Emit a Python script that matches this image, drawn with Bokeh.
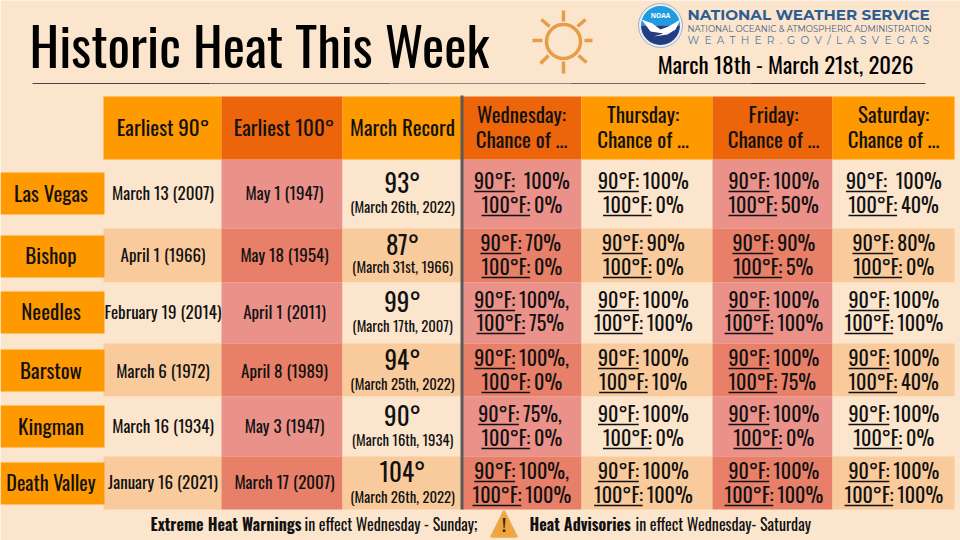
from bokeh.plotting import figure
from bokeh.models import Range1d
from bokeh.core.properties import value
from bokeh.embed import file_html
from bokeh.resources import INLINE

# ---------- data ----------
title = "Historic Heat This Week"
dates = "March 18th - March 21st, 2026"
stations = ["Las Vegas", "Bishop", "Needles", "Barstow", "Kingman", "Death Valley"]
headers = ["Earliest 90°", "Earliest 100°", "March Record"]
day_names = ["Wednesday:", "Thursday:", "Friday:", "Saturday:"]
day_sub = "Chance of ..."
earliest_90 = ["March 13 (2007)", "April 1 (1966)", "February 19 (2014)", "March 6 (1972)", "March 16 (1934)", "January 16 (2021)"]
earliest_100 = ["May 1 (1947)", "May 18 (1954)", "April 1 (2011)", "April 8 (1989)", "May 3 (1947)", "March 17 (2007)"]
record_temp = ["93°", "87°", "99°", "94°", "90°", "104°"]
record_date = ["(March 26th, 2022)", "(March 31st, 1966)", "(March 17th, 2007)", "(March 25th, 2022)", "(March 16th, 1934)", "(March 26th, 2022)"]
chance_90 = [
    ["100%", "100%", "100%", "100%"],
    ["70%", "90%", "90%", "80%"],
    ["100%,", "100%", "100%", "100%"],
    ["100%,", "100%", "100%", "100%"],
    ["75%,", "100%", "100%", "100%"],
    ["100%,", "100%", "100%", "100%"],
]
chance_100 = [
    ["0%", "0%", "50%", "40%"],
    ["0%", "0%", "5%", "0%"],
    ["75%", "100%", "100%", "100%"],
    ["0%", "10%", "75%", "40%"],
    ["0%", "0%", "0%", "0%"],
    ["100%", "100%", "100%", "100%"],
]

# ---------- layout (reference pixels) ----------
FONT = "Oswald"
LOGO = "Montserrat"
BG, ORANGE, DEEP = "#FCE5CD", "#FF9900", "#EC650B"
STRIPE, PINK, RED = "#F9CB9C", "#EA918A", "#E87F68"
col_edges = [103, 221, 342, 462, 581, 712, 832, 954]
row_edges = [159, 228, 282, 343, 396, 456, 509]
label_tops = [172, 235, 291, 349, 405, 462]
label_h = 42
label_y = [193, 255, 311, 370, 426, 483]
earliest_y = [193, 255, 312, 371, 426, 482]
temp_y = [183, 245, 302, 360, 416, 472]
sub_y = [207, 267, 326, 384, 440, 497]
line1_y = [181, 243, 300, 358, 414, 471]
line2_y = [205, 267, 323, 382, 438, 495]
day_cx = [521, 642.5, 773, 893]
hot_cols = {1, 3, 5}
CW = {"0": .5, "1": .39, "2": .5, "3": .5, "4": .5, "5": .5, "6": .5, "7": .5, "8": .5,
      "9": .5, "°": .36, "F": .41, ":": .27, "%": .87, ",": .22}

def width(s, size):
    return sum(CW[c] for c in s) * size

p = figure(width=960, height=540, x_range=Range1d(0, 960), y_range=Range1d(540, 0),
           output_backend="svg", toolbar_location=None, min_border=0,
           background_fill_color=BG, border_fill_color=BG, outline_line_color=None)
p.axis.visible = False
p.grid.visible = False

def txt(x, y, s, size, align="center", color="#111111", style="normal", font=FONT):
    if font == FONT:
        y -= 0.07 * size
    p.text(x=[x], y=[y], text=[s], text_font=value(font), text_font_size=f"{size}px", text_align=align,
           text_baseline="middle", text_color=color, text_font_style=style)

def box(l, r, t, b, color):
    p.quad(left=[l], right=[r], top=[t], bottom=[b], fill_color=color, line_color=None)

# title area
txt(29, 47.5, title, 53, "left", "#000000")
p.multi_line(xs=[[32, 210], [210, 390], [390, 570], [570, 750], [750, 925]],
             ys=[[83, 83]] * 5, line_color=["#4A4540", "#6E6964", "#8F8A85", "#6E6964", "#4A4540"], line_width=1)
txt(785, 65, dates, 22.7, "center", "#000000")

# sun
sun_c = "#E79C48"
p.circle(x=[563], y=[41], radius=17, fill_color=None, line_color=sun_c, line_width=3.5)
p.multi_line(xs=[[563, 563], [563, 563], [532, 542], [584, 592], [541, 549], [577, 585], [540, 548], [578, 586]],
             ys=[[10, 21], [61, 73], [40, 40], [40, 40], [19, 26], [26, 19], [63, 55], [55, 62]],
             line_color=sun_c, line_width=3.5)

# logo
p.circle(x=[660], y=[25], radius=22, fill_color="#E8EDF2", line_color="#9DB2C8", line_width=1)
p.wedge(x=[660], y=[25], radius=19.5, start_angle=0, end_angle=3.1416, direction="anticlock",
        fill_color="#1F9BE0", line_color=None)
p.wedge(x=[660], y=[25], radius=19.5, start_angle=3.1416, end_angle=6.2832, direction="anticlock",
        fill_color="#233D82", line_color=None)
p.patch(x=[641, 652, 660, 668, 680, 675, 667, 674, 653, 663, 650],
        y=[19, 23, 29, 26, 19, 29, 34, 33, 36, 33, 31], fill_color="#FFFFFF", line_color=None)
txt(660, 15, "NOAA", 6.5, "center", "#FFFFFF", "bold", "Open Sans")
txt(687, 14, "NATIONAL WEATHER SERVICE", 15.2, "left", "#2B5D93", "bold", LOGO)
txt(687, 28, "NATIONAL OCEANIC & ATMOSPHERIC ADMINISTRATION", 8.6, "left", "#44607E", "normal", LOGO)
txt(687, 40, "\u2002".join("WEATHER.GOV/LASVEGAS"), 10.5, "left", "#4B7BA3", "normal", LOGO)

# table cells
for c in range(7):
    for r in range(6):
        odd = r % 2 == 1
        if c in hot_cols:
            color = RED if odd else PINK
        else:
            color = STRIPE if odd else BG
        box(col_edges[c], col_edges[c + 1], row_edges[r], row_edges[r + 1], color)
    box(col_edges[c], col_edges[c + 1], 96, 159, DEEP if c in hot_cols else ORANGE)

# station labels
for i, s in enumerate(stations):
    box(0, 104, label_tops[i], label_tops[i] + label_h, ORANGE)
    txt(50.5, label_y[i], s, 21 if len(s) < 10 else 20)

# headers
for cx, s in zip([162.5, 283.5, 402], headers):
    txt(cx, 127, s, 21)
for cx, s in zip(day_cx, day_names):
    txt(cx, 114, s, 21)
    txt(cx, 139, day_sub, 21)

# static columns
for i in range(6):
    txt(162.5, earliest_y[i], earliest_90[i], 17)
    txt(284, earliest_y[i], earliest_100[i], 17)
    txt(402, temp_y[i], record_temp[i], 25)
    txt(402, sub_y[i], record_date[i], 14.7)

# chance cells
SIZE = 20
GAP = 4
DOUBLE = {(0, 0), (0, 3)}
for r in range(6):
    for c in range(4):
        for label, val, y in (("90°F:", chance_90[r][c], line1_y[r]), ("100°F:", chance_100[r][c], line2_y[r])):
            gap = 9 if (label == "90°F:" and (r, c) in DOUBLE) else GAP
            lw, vw = width(label, SIZE), width(val, SIZE)
            left = day_cx[c] - (lw + gap + vw) / 2
            txt(left, y, label, SIZE, "left")
            txt(left + lw + gap, y, val, SIZE, "left")
            p.line(x=[left, left + lw], y=[y + 10, y + 10], line_color="#111111", line_width=1.3)

# divider
p.line(x=[461.5, 461.5], y=[95, 509], line_color="#5A5A5A", line_width=3)

# footer
txt(150, 525, "Extreme Heat Warnings", 16, "left", "#111111", "bold")
txt(304, 525, "in effect Wednesday - Sunday;", 16, "left")
p.patch(x=[503.5, 516, 491], y=[511, 536, 536], fill_color="#F2A33A", line_color="#EBA94F", line_width=2.5, line_join="round")
txt(503.5, 526, "!", 16, "center", "#3A2A10", "bold")
txt(529, 525, "Heat Advisories", 16, "left", "#111111", "bold")
txt(635, 525, "in effect Wednesday- Saturday", 16, "left")

html = file_html(p, INLINE)
html = html.replace("<body>", f'<body style="background:{BG}">', 1)
open("out.html", "w").write(html)
